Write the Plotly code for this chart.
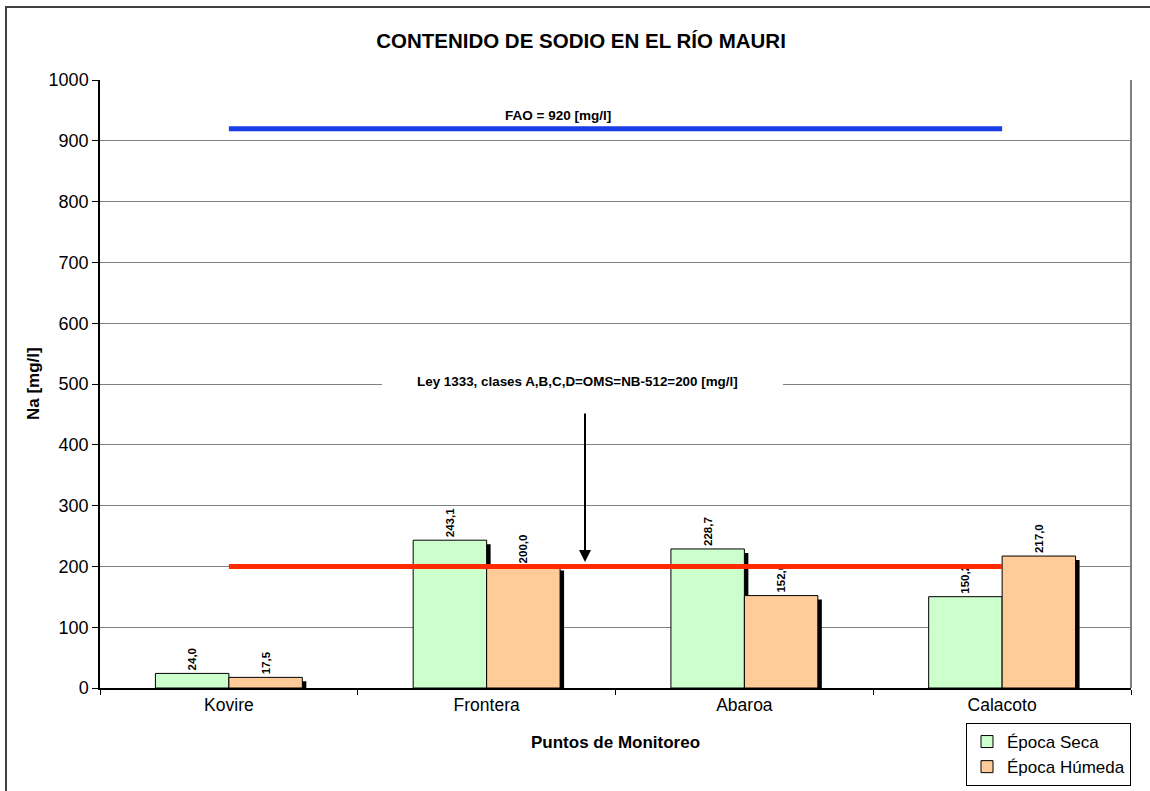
import plotly.graph_objects as go

# Sodium content at monitoring points of the Mauri river
puntos = ["Kovire", "Frontera", "Abaroa", "Calacoto"]
epoca_seca = [24.0, 243.1, 228.7, 150.2]
epoca_humeda = [17.5, 200.0, 152.0, 217.0]

limite_fao = 920
limite_ley = 200
y_ticks = [0, 100, 200, 300, 400, 500, 600, 700, 800, 900, 1000]

FONT = "Liberation Sans, Arial, sans-serif"
VERDE = "#CCFFCC"
NARANJA = "#FFCC99"

BAR_W = 0.285
SH_DX = 0.0155   # shadow shift, category units
SH_DY = 6.6      # shadow drop, mg/l

fig = go.Figure()

# drop shadows behind the bars
for vals, off in ((epoca_seca, -BAR_W), (epoca_humeda, 0.0)):
    fig.add_trace(go.Bar(
        x=puntos, y=[v - SH_DY for v in vals],
        width=BAR_W, offset=off + SH_DX,
        marker=dict(color="black", line=dict(width=0)),
        showlegend=False, hoverinfo="skip",
    ))

for name, vals, col, off in (("Época Seca", epoca_seca, VERDE, -BAR_W),
                             ("Época Húmeda", epoca_humeda, NARANJA, 0.0)):
    fig.add_trace(go.Bar(
        x=puntos, y=vals, name=name,
        width=BAR_W, offset=off,
        marker=dict(color=col, line=dict(color="black", width=1)),
        texttemplate="%{y:.1f}", textposition="outside", textangle=-90,
        textfont=dict(family=FONT, size=11.5, color="black", weight="bold"),
        cliponaxis=False,
    ))

# reference limits
fig.add_trace(go.Scatter(
    x=[puntos[0], puntos[-1]], y=[limite_fao, limite_fao], mode="lines",
    line=dict(color="#1a3de6", width=5), showlegend=False, hoverinfo="skip",
))
fig.add_trace(go.Scatter(
    x=[puntos[0], puntos[-1]], y=[limite_ley, limite_ley], mode="lines",
    line=dict(color="#ff2a00", width=5), showlegend=False, hoverinfo="skip",
))

fig.update_layout(
    width=1150, height=791,
    margin=dict(l=100, r=19, t=80, b=103, autoexpand=False),
    paper_bgcolor="white", plot_bgcolor="white",
    barmode="overlay",
    separators=",.",
    font=dict(family=FONT, color="black"),
    title=dict(
        text="<b>CONTENIDO DE SODIO EN EL RÍO MAURI</b>",
        x=581 / 1150, xanchor="center", y=1 - 41 / 791, yanchor="middle",
        font=dict(family=FONT, size=20.5, color="black"),
    ),
    xaxis=dict(
        type="category", range=[-0.5, 3.5],
        tickson="boundaries", ticks="outside", ticklen=5, tickcolor="black",
        showline=True, linecolor="black", linewidth=1.5,
        showgrid=False, tickfont=dict(family=FONT, size=17.5),
    ),
    yaxis=dict(
        range=[0, 1000], tickvals=y_ticks,
        ticks="outside", ticklen=6, tickcolor="black",
        showline=True, linecolor="black", linewidth=1.5,
        showgrid=True, gridcolor="#808080", gridwidth=1, zeroline=False,
        tickfont=dict(family=FONT, size=18),
    ),
    legend=dict(
        x=(966 - 100) / 1031, y=(688 - 723) / 608,
        xanchor="left", yanchor="top",
        bordercolor="black", borderwidth=1, bgcolor="white",
        font=dict(family=FONT, size=17), itemwidth=30,
        traceorder="normal",
    ),
    showlegend=True,
)

fig.update_layout(
    shapes=[
        # right border of the plot area
        dict(type="line", xref="paper", yref="paper", x0=1, x1=1, y0=0, y1=1,
             line=dict(color="#808080", width=2), layer="below"),
        # blank strip behind the legal-limit caption
        dict(type="rect", xref="paper", yref="paper",
             x0=(382 - 100) / 1031, x1=(783 - 100) / 1031,
             y0=(688 - 392) / 608, y1=(688 - 372) / 608,
             fillcolor="white", line=dict(width=0), layer="above"),
        # outer chart frame
        dict(type="rect", xref="paper", yref="paper",
             x0=(6 - 100) / 1031, x1=1.1,
             y0=-0.4, y1=(688 - 7) / 608,
             line=dict(color="#404040", width=2), fillcolor="rgba(0,0,0,0)"),
    ],
    annotations=[
        dict(text="<b>FAO = 920 [mg/l]</b>", xref="paper", yref="paper",
             x=(558 - 100) / 1031, y=(688 - 106) / 608,
             showarrow=False, font=dict(family=FONT, size=13.5)),
        dict(text="<b>Ley 1333, clases A,B,C,D=OMS=NB-512=200 [mg/l]</b>",
             xref="paper", yref="paper",
             x=(577 - 100) / 1031, y=(688 - 381) / 608,
             showarrow=False, font=dict(family=FONT, size=13.4)),
        dict(text="", xref="paper", yref="paper",
             x=(585 - 100) / 1031, y=(688 - 562) / 608,
             showarrow=True, arrowhead=2, arrowsize=1.2, arrowwidth=2,
             arrowcolor="black", ax=0, ay=-150),
        dict(text="<b>Puntos de Monitoreo</b>", xref="paper", yref="paper",
             x=0.5, y=(688 - 742) / 608, yanchor="middle",
             showarrow=False, font=dict(family=FONT, size=17)),
        dict(text="<b>Na [mg/l]</b>", xref="paper", yref="paper",
             x=(33 - 100) / 1031, y=0.5, textangle=-90,
             xanchor="center", yanchor="middle",
             showarrow=False, font=dict(family=FONT, size=17)),
    ],
)

fig.write_html("out.html")
